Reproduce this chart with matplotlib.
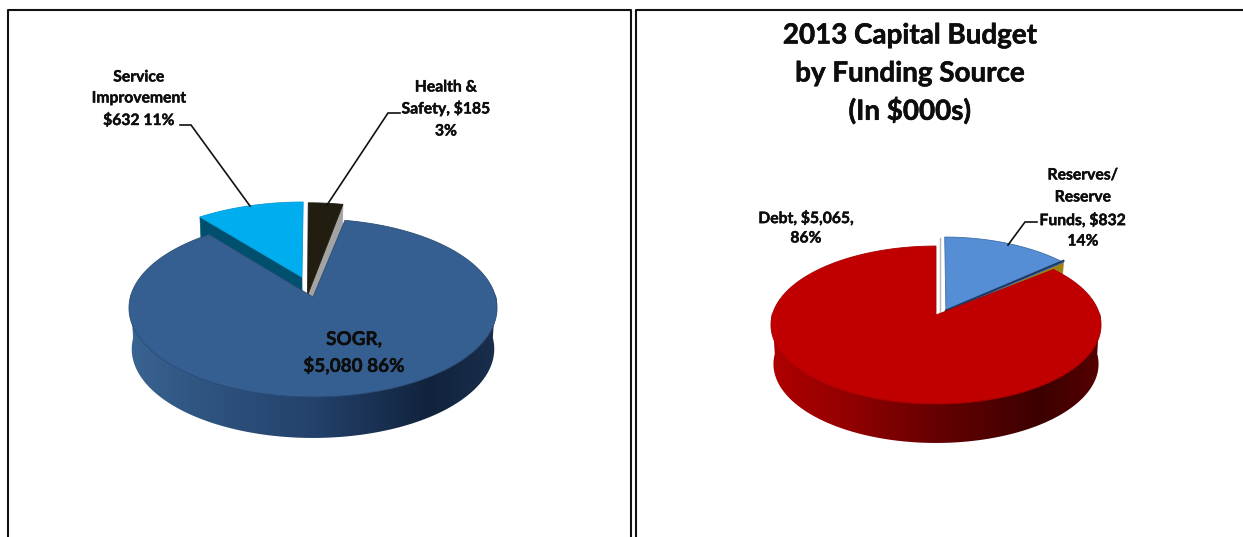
import numpy as np
import matplotlib
matplotlib.use("Agg")
import matplotlib.pyplot as plt
import matplotlib.patheffects as pe
from matplotlib.colors import to_rgb
from matplotlib.patches import Polygon

plt.rcParams['font.family'] = ['Lato', 'DejaVu Sans']

# Spending by category and funding by source, $000s, in pie order
category_names = ["Health & Safety", "SOGR", "Service Improvement"]
category_values = [185, 5080, 632]
source_names = ["Reserves/Reserve Funds", "Debt"]
source_values = [832, 5065]
chart_title = "2013 Capital Budget\nby Funding Source\n(In $000s)"


class Disc:
    """Perspective view of a flat pie: unit-disc coordinates to figure pixels."""

    def __init__(self, x0, y0, a, b, k, depth, shrink):
        self.x0, self.y0, self.a, self.b, self.k = x0, y0, a, b, k
        self.depth, self.shrink = depth, shrink

    def project(self, u, v):
        w = 1 + self.k * v
        return self.x0 + self.a * u / w, self.y0 - self.b * v / w

    def outline(self, t0, t1, apex=(0, 0), ru=1.0, rv=1.0, n=240):
        t = np.radians(np.linspace(t0, t1, n))
        u = apex[0] + ru * np.sin(t)
        v = apex[1] + rv * np.cos(t)
        return self.project(u, v)

    def lowered(self, x, y, drop=None):
        drop = self.depth if drop is None else drop
        return self.x0 + self.shrink * (np.asarray(x) - self.x0), np.asarray(y) + drop


def sweeps(values):
    edges = np.concatenate([[0], np.cumsum(values)]) / np.sum(values) * 360
    return list(zip(edges[:-1], edges[1:]))


def top_face(ax, disc, t0, t1, color, edge, apex=(0, 0), ru=1.0, rv=1.0, z=3):
    x, y = disc.outline(t0, t1, apex, ru, rv)
    ax_, ay_ = disc.project(*apex)
    pts = np.column_stack([np.r_[ax_, x], np.r_[ay_, y]])
    ax.add_patch(Polygon(pts, closed=True, fc=color, ec=edge, lw=0.6, zorder=z))


def cut_face(ax, disc, angle, color, apex, ru, rv, drop, z=2):
    """Flat wall below the straight edge of an exploded slice."""
    t = np.radians(angle)
    x0, y0 = disc.project(*apex)
    x1, y1 = disc.project(apex[0] + ru * np.sin(t), apex[1] + rv * np.cos(t))
    lx0, ly0 = disc.lowered(x0, y0, drop)
    lx1, ly1 = disc.lowered(x1, y1, drop)
    pts = [(x0, y0), (x1, y1), (lx1, ly1), (lx0, ly0)]
    ax.add_patch(Polygon(pts, closed=True, fc=color, ec=color, lw=0.4, zorder=z))


def rim_wall(ax, disc, stops_x, stops_c, z=4):
    """Curved front wall with a smooth left-to-right shade."""
    x, y = disc.outline(90, 270, n=420)
    lx, ly = disc.lowered(x, y)
    pts = np.column_stack([np.r_[x, lx[::-1]], np.r_[y - 3, ly[::-1]]])
    rgb = np.array([to_rgb(c) for c in stops_c])
    grid = np.linspace(stops_x[0], stops_x[-1], 512)
    shade = np.stack([np.interp(grid, stops_x, rgb[:, c]) for c in range(3)], axis=1)[None, :, :]
    im = ax.imshow(shade, extent=(stops_x[0], stops_x[-1], pts[:, 1].max() + 1, pts[:, 1].min() - 1),
                   aspect='auto', interpolation='bilinear', zorder=z)
    clip = Polygon(pts, closed=True, transform=ax.transData, fc='none', ec='none')
    ax.add_patch(clip)
    im.set_clip_path(clip)


def multiline(ax, cx, ys, lines, size):
    for y, line in zip(ys, lines):
        ax.text(cx, y, line, ha='center', va='center', fontsize=size, fontweight='bold',
                color='#0d0d0d', zorder=6,
                path_effects=[pe.withStroke(linewidth=0.3, foreground='#0d0d0d')])


fig = plt.figure(figsize=(12.43, 5.37), dpi=100, facecolor='white')
ax = fig.add_axes([0, 0, 1, 1])
ax.axis('off')

# Panel frames, open at the bottom
frame = dict(color='#111111', lw=1.5, solid_capstyle='butt', zorder=0)
ax.plot([8.5, 8.5, 631.5, 631.5], [537, 10, 10, 537], **frame)
ax.plot([636.5, 636.5, 1243], [537, 10, 10], **frame)

# Left pie: spending by category
left = Disc(313, 297, 182.6, 87.6, 0.1236, 41, 0.985)
(h0, h1), (s0, s1), (i0, i1) = sweeps(category_values)

health_apex, health_ru, health_rv = (-0.03, 0.02), 1.117, 1.22
improve_apex, improve_r = (-0.062, 0.232), 1.02

cut_face(ax, left, i0, '#004f6e', improve_apex, improve_r, improve_r, 36)
top_face(ax, left, i0, i1, '#00aeef', '#009ad4', improve_apex, improve_r, improve_r)
cut_face(ax, left, h1, '#a3a3a3', health_apex, health_ru, health_rv, 36)
top_face(ax, left, h0, h1, '#211d10', '#211d10', health_apex, health_ru, health_rv)
rim_wall(ax, left, [130, 200, 314, 430, 498],
         ['#3a6493', '#2f5580', '#23416b', '#11233c', '#1a2f4d'])
top_face(ax, left, s0, s1, '#365f91', '#2a4c75', z=5)

multiline(ax, 354, [339.5, 365.5], ["SOGR,", "$5,080 86%"], 13.6)
multiline(ax, 139, [77.5, 98.5, 120.5], ["Service", "Improvement", "$632 11%"], 11.3)
multiline(ax, 446, [87.5, 108.5, 131.5], ["Health &", "Safety, $185", "3%"], 11.3)

leader = dict(color='#111111', lw=1.2, zorder=6, solid_joinstyle='miter')
ax.plot([180, 191, 250], [125, 125, 206], **leader)
ax.plot([327, 388, 400], [205, 113, 113], **leader)

# Right pie: funding by source
right = Disc(936, 315, 163.7, 77.7, 0.1266, 39, 0.985)
(r0, r1), (d0, d1) = sweeps(source_values)

reserve_apex, reserve_ru, reserve_rv = (0.061, 0.039), 1.02, 1.11

ax.plot([940.5, 940.5], [238, 313], color='#b5b5b5', lw=1, zorder=1)
cut_face(ax, right, r1, '#a08210', reserve_apex, reserve_ru, reserve_rv, 32)
top_face(ax, right, r0, r1, '#558ed5', '#3f6ea8', reserve_apex, reserve_ru, reserve_rv)

# Darker edge along the lower cut of the lighter slice
t = np.radians(r1)
ex, ey = right.project(reserve_apex[0] + reserve_ru * np.sin(t), reserve_apex[1] + reserve_rv * np.cos(t))
bx, by = right.project(*reserve_apex)
ax.plot([bx, ex], [by - 1.5, ey - 1.5], color='#1f3864', lw=1.5, zorder=3.5)

rim_wall(ax, right, [770, 850, 935, 1040, 1101],
         ['#b00000', '#920000', '#660000', '#3c0000', '#560000'])
top_face(ax, right, d0, d1, '#c00000', '#a80000', z=5)

multiline(ax, 806, [218.5, 238.5], ["Debt, $5,065,", "86%"], 11.3)
multiline(ax, 1083, [175.5, 197.5, 220.5, 241.5], ["Reserves/", "Reserve", "Funds, $832", "14%"], 11.3)
ax.plot([1008, 1025, 1037], [245, 222, 222], **leader)

for y, line in zip([35.5, 73.5, 110.5], chart_title.split("\n")):
    ax.text(910, y, line, ha='center', va='center', fontsize=20, fontweight='bold',
            color='#0d0d0d', zorder=6,
            path_effects=[pe.withStroke(linewidth=0.4, foreground='#0d0d0d')])

ax.set_xlim(0, 1243)
ax.set_ylim(537, 0)
fig.savefig("out.png", dpi=100, facecolor='white')
